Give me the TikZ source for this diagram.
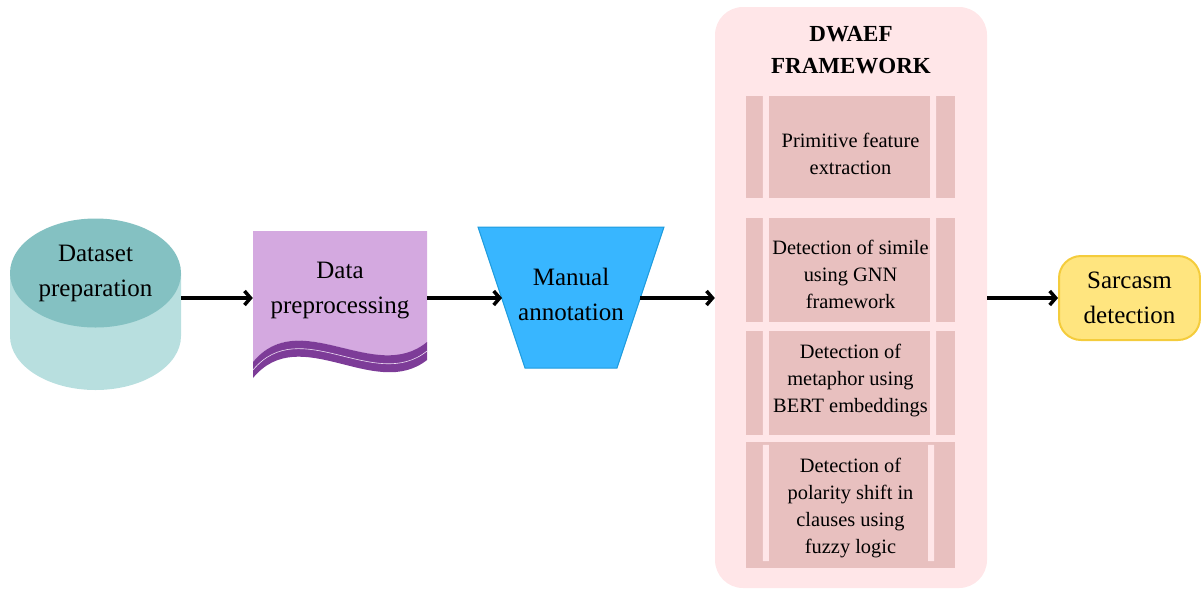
\documentclass[tikz,border=0pt]{standalone}
\usepackage{fontspec}
\setmainfont{Liberation Serif}
\usetikzlibrary{shapes.geometric,arrows.meta}
\definecolor{cyltop}{HTML}{84C1C2}
\definecolor{cylbody}{HTML}{B8DFDF}
\definecolor{docfill}{HTML}{D4A9E0}
\definecolor{docband}{HTML}{7D3C98}
\definecolor{annotfill}{HTML}{38B6FF}
\definecolor{annotline}{HTML}{1E9BDD}
\definecolor{framefill}{HTML}{FFE6E8}
\definecolor{boxfill}{HTML}{E8C0BF}
\definecolor{sarcfill}{HTML}{FFE57F}
\definecolor{sarcline}{HTML}{F4CC3C}
\begin{document}
\begin{tikzpicture}[x=1pt,y=-1pt,
  big/.style={font=\fontsize{25}{35}\selectfont,align=center,inner sep=0pt},
  stagebox/.style={fill=boxfill,minimum width=209pt,inner sep=0pt},
  stagetext/.style={font=\fontsize{20.4}{27.2}\selectfont,align=center,inner sep=0pt},
  arr/.style={line width=3.5pt,-{Straight Barb[length=6pt,width=14pt]}}]
\useasboundingbox (0,0) rectangle (1201,590);
\coordinate (row) at (0,298);
% dataset
\fill[cylbody] (10,273) -- (10,336) arc[start angle=180,end angle=360,x radius=85.5pt,y radius=54pt] -- (181,273) -- cycle;
\node[big,ellipse,fill=cyltop,minimum width=171pt,minimum height=109pt] (dataset) at (95.5,273) {Dataset\\preparation};
% preprocessing
\fill[docfill] (253,231) -- (427,231) -- (427,343) .. controls (375,385) and (300,305) .. (253,362) -- cycle;
\fill[docband] (253,362) .. controls (300,305) and (375,385) .. (427,342) -- (427,360) .. controls (375,401) and (300,321) .. (253,378) -- cycle;
\draw[white!60!docfill,line width=0.6pt] (253,370) .. controls (300,313) and (375,393) .. (427,351);
\node[big,minimum width=174pt,minimum height=119pt] (prep) at (340,290.5) {Data\\preprocessing};
% annotation
\filldraw[fill=annotfill,draw=annotline,line width=1pt] (478,227) -- (664,227) -- (617,368) -- (525,368) -- cycle;
\coordinate (annotin) at (502,298);
\coordinate (annotout) at (640,298);
\node[big] (annot) at (571,294) {Manual\\annotation};
% framework
\node[fill=framefill,rounded corners=28pt,minimum width=272pt,minimum height=581pt] (dwaef) at (851,297.5) {};
\node[font=\bfseries\fontsize{23}{32}\selectfont,align=center] (dwaeftitle) at (851,50) {DWAEF\\FRAMEWORK};
\node[stagebox,minimum height=102pt,label={[stagetext,yshift=-7pt]center:{Primitive feature\\extraction}}] (feat) at (850.5,147) {};
\node[stagebox,minimum height=104pt,label={[stagetext,yshift=-4.5pt]center:{Detection of simile\\using GNN\\framework}}] (simile) at (850.5,270) {};
\node[stagebox,minimum height=104pt,label={[stagetext,yshift=2.5pt]center:{Detection of\\metaphor using\\BERT embeddings}}] (metaphor) at (850.5,383) {};
\node[stagebox,minimum height=126pt,label={[stagetext,yshift=-3pt]center:{Detection of\\polarity shift in\\clauses using\\fuzzy logic}}] (polarity) at (850.5,505) {};
\foreach \b in {feat,simile,metaphor}
  \fill[framefill] ([xshift=17pt]\b.north west) rectangle ([xshift=23pt]\b.south west)
    ([xshift=-25pt]\b.north east) rectangle ([xshift=-19pt]\b.south east);
\fill[framefill] ([xshift=17pt,yshift=-3pt]polarity.north west) rectangle ([xshift=23pt,yshift=7pt]polarity.south west)
  ([xshift=-27pt,yshift=-3pt]polarity.north east) rectangle ([xshift=-21pt,yshift=7pt]polarity.south east);
% result
\node[big,fill=sarcfill,draw=sarcline,line width=2pt,rounded corners=22pt,minimum width=141pt,minimum height=84pt] (sarc) at (1129.5,298) {Sarcasm\\detection};
\draw[arr] (dataset.east |- row) -- (prep.west |- row);
\draw[arr] (prep.east |- row) -- (annotin);
\draw[arr] (annotout) -- (dwaef.west |- row);
\draw[arr] (dwaef.east |- row) -- (sarc.west |- row);
\end{tikzpicture}
\end{document}
